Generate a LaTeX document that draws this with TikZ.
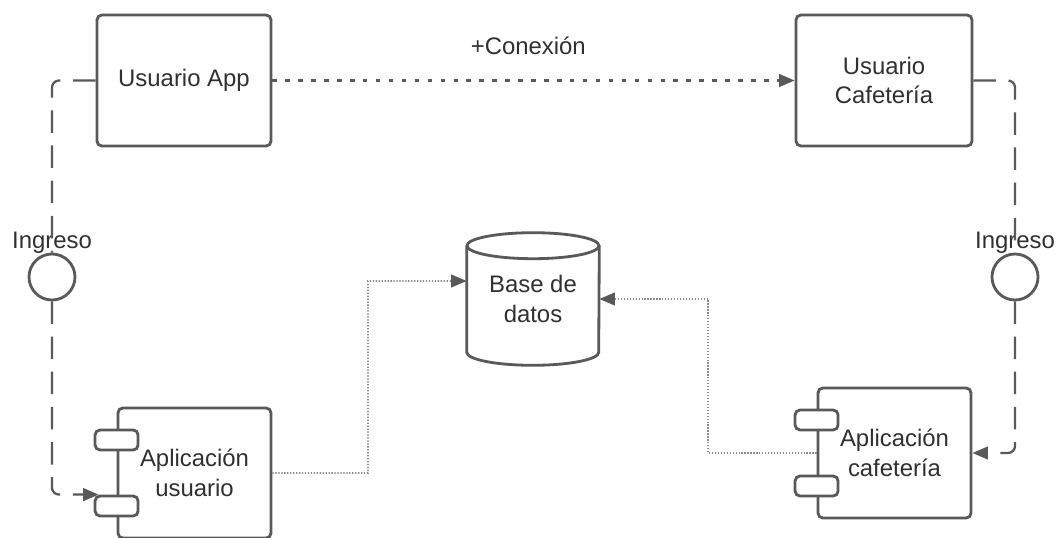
\documentclass[tikz,border=0pt]{standalone}
\usepackage{fontspec}
\setmainfont{Liberation Sans}
\usepackage{tikz}
\usetikzlibrary{arrows.meta,positioning}
\definecolor{linegray}{HTML}{595959}
\definecolor{dotgray}{HTML}{8A8A8A}
\definecolor{txtgray}{HTML}{303030}

\begin{document}
\begin{tikzpicture}[x=0.025cm,y=-0.025cm,
  every node/.style={font=\fontsize{17}{21}\selectfont,text=txtgray,align=center},
  actor/.style={draw=linegray,line width=2pt,rounded corners=3.5pt,minimum width=4.35cm,minimum height=3.275cm},
  comp/.style={draw=linegray,line width=2pt,rounded corners=3.5pt,minimum width=3.825cm,minimum height=3.25cm},
  port/.style={draw=linegray,fill=white,line width=2pt,rounded corners=3.5pt,minimum width=1.075cm,minimum height=0.5cm,inner sep=0pt},
  iface/.style={draw=linegray,line width=2pt,circle,minimum size=1.15cm,inner sep=0pt},
  cyl/.style={draw=linegray,line width=2pt},
  dep/.style={draw=linegray,line width=1.6pt,dash pattern=on 16pt off 9pt,rounded corners=5pt},
  assoc/.style={draw=linegray,line width=1.6pt,dash pattern=on 3.2pt off 6pt},
  dbdep/.style={draw=dotgray,line width=1.1pt,dash pattern=on 0.9pt off 1.2pt},
  arrowtip/.style={-{Triangle[length=11pt,width=9pt,color=linegray]}}]
\useasboundingbox (0,0) rectangle (1064,538);

\node[actor] (usrapp) at (184,80.5) {Usuario App};
\node[actor,minimum width=4.4cm] (usrcaf) at (884,80.5) {Usuario\\Cafetería};

\node[comp] (appusr) at (194.5,473) {Aplicación\\usuario};
\node[port,below=0.55cm of appusr.north west] (appusrpa) {};
\node[port,below=2.2cm of appusr.north west] (appusrpb) {};
\node[comp] (appcaf) at (894.5,453) {Aplicación\\cafetería};
\node[port,below=0.55cm of appcaf.north west] (appcafpa) {};
\node[port,below=2.2cm of appcaf.north west] (appcafpb) {};

\node[iface] (ing1) at (52,277) {};
\node[iface] (ing2) at (1015,277) {};
\node (ing1txt) at (52,243) {Ingreso};
\node (ing2txt) at (1015,243) {Ingreso};

\node[minimum width=3.3cm,minimum height=3.3cm] (bd) at (533,299) {Base de\\datos};
\draw[cyl] ([yshift=-0.325cm]bd.north west) -- ([yshift=0.325cm]bd.south west)
  arc[start angle=180,end angle=0,x radius=66,y radius=13] -- ([yshift=-0.325cm]bd.north east);
\draw[cyl] ([yshift=-0.325cm]bd.north) ellipse[x radius=66,y radius=13];

\draw[assoc,arrowtip] (usrapp) -- (usrcaf) node[pos=0.49,yshift=0.875cm] (conx) {+Conexión};

\draw[dep] (usrapp.west) -| (ing1.north);
\draw[dep,arrowtip] (ing1.south) |- ([xshift=0.125cm]appusrpb.north west);
\draw[dep] (usrcaf.east) -| (ing2.north);
\draw[dep,arrowtip] (ing2.south) |- (appcaf.east);

\draw[dbdep,arrowtip] (appusr.east) -| (368,281) -- ([yshift=0.45cm]bd.west);
\draw[dbdep,arrowtip] (appcaf.west) -| (708,299) -- (bd.east);
\end{tikzpicture}
\end{document}
